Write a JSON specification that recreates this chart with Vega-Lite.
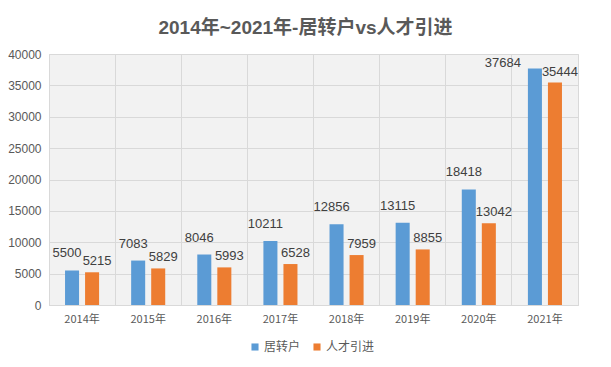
{
  "$schema": "https://vega.github.io/schema/vega-lite/v6.json",
  "width": 529,
  "height": 251,
  "autosize": {"type": "none"},
  "padding": {"left": 49, "top": 54, "right": 33, "bottom": 62},
  "background": "white",
  "title": {
    "text": "2014年~2021年-居转户vs人才引进",
    "font": "Liberation Sans, Noto Sans CJK SC",
    "fontSize": 19,
    "fontWeight": "bold",
    "color": "#595959",
    "anchor": "middle",
    "dx": -8,
    "offset": 10
  },
  "data": {
    "values": [
      {"year": "2014年", "type": "居转户", "value": 5500},
      {"year": "2014年", "type": "人才引进", "value": 5215},
      {"year": "2015年", "type": "居转户", "value": 7083},
      {"year": "2015年", "type": "人才引进", "value": 5829},
      {"year": "2016年", "type": "居转户", "value": 8046},
      {"year": "2016年", "type": "人才引进", "value": 5993},
      {"year": "2017年", "type": "居转户", "value": 10211},
      {"year": "2017年", "type": "人才引进", "value": 6528},
      {"year": "2018年", "type": "居转户", "value": 12856},
      {"year": "2018年", "type": "人才引进", "value": 7959},
      {"year": "2019年", "type": "居转户", "value": 13115},
      {"year": "2019年", "type": "人才引进", "value": 8855},
      {"year": "2020年", "type": "居转户", "value": 18418},
      {"year": "2020年", "type": "人才引进", "value": 13042},
      {"year": "2021年", "type": "居转户", "value": 37684},
      {"year": "2021年", "type": "人才引进", "value": 35444}
    ]
  },
  "encoding": {
    "x": {
      "field": "year",
      "type": "nominal",
      "sort": null,
      "scale": {"paddingInner": 0, "paddingOuter": 0},
      "axis": {
        "title": null,
        "labelAngle": 0,
        "grid": true,
        "bandPosition": 0,
        "gridColor": "#d9d9d9",
        "domain": true,
        "domainColor": "#d9d9d9",
        "ticks": false,
        "labelPadding": 8,
        "labelFont": "Noto Sans CJK SC",
        "labelFontSize": 11,
        "labelColor": "#595959"
      }
    },
    "xOffset": {
      "field": "type",
      "type": "nominal",
      "sort": ["居转户", "人才引进"],
      "scale": {"paddingInner": 0.3, "paddingOuter": 0.8}
    },
    "y": {
      "field": "value",
      "type": "quantitative",
      "scale": {"domain": [0, 40000], "nice": false},
      "axis": {
        "title": null,
        "values": [0, 5000, 10000, 15000, 20000, 25000, 30000, 35000, 40000],
        "format": "d",
        "grid": true,
        "gridColor": "#d9d9d9",
        "domain": false,
        "ticks": false,
        "labelPadding": 8,
        "labelFont": "Liberation Sans",
        "labelFontSize": 12,
        "labelColor": "#595959"
      }
    },
    "color": {
      "field": "type",
      "type": "nominal",
      "sort": ["居转户", "人才引进"],
      "scale": {"domain": ["居转户", "人才引进"], "range": ["#5B9BD5", "#ED7D31"]},
      "legend": {
        "title": null,
        "orient": "none",
        "legendX": 200,
        "legendY": 287,
        "direction": "horizontal",
        "symbolType": "square",
        "symbolSize": 50,
        "symbolStrokeWidth": 0,
        "labelOffset": 3,
        "labelFont": "Noto Sans CJK SC",
        "labelFontSize": 12,
        "labelColor": "#595959",
        "columnPadding": 10
      }
    }
  },
  "layer": [
    {"mark": {"type": "bar"}},
    {
      "transform": [{"filter": "datum.type === '居转户' && datum.year !== '2021年'"}],
      "mark": {"type": "text", "dy": -10, "dx": -5, "font": "Liberation Sans", "fontSize": 13, "baseline": "bottom"},
      "encoding": {"text": {"field": "value", "type": "quantitative", "format": "d"}, "color": {"value": "#404040"}}
    },
    {
      "transform": [{"filter": "datum.type === '居转户' && datum.year === '2021年'"}],
      "mark": {"type": "text", "dy": 1, "dx": -32, "font": "Liberation Sans", "fontSize": 13, "baseline": "bottom"},
      "encoding": {"text": {"field": "value", "type": "quantitative", "format": "d"}, "color": {"value": "#404040"}}
    },
    {
      "transform": [{"filter": "datum.type === '人才引进'"}],
      "mark": {"type": "text", "dy": -4, "dx": 5, "font": "Liberation Sans", "fontSize": 13, "baseline": "bottom"},
      "encoding": {"text": {"field": "value", "type": "quantitative", "format": "d"}, "color": {"value": "#404040"}}
    }
  ],
  "config": {
    "view": {"stroke": "#d9d9d9", "fill": "#f2f2f2"}
  }
}
